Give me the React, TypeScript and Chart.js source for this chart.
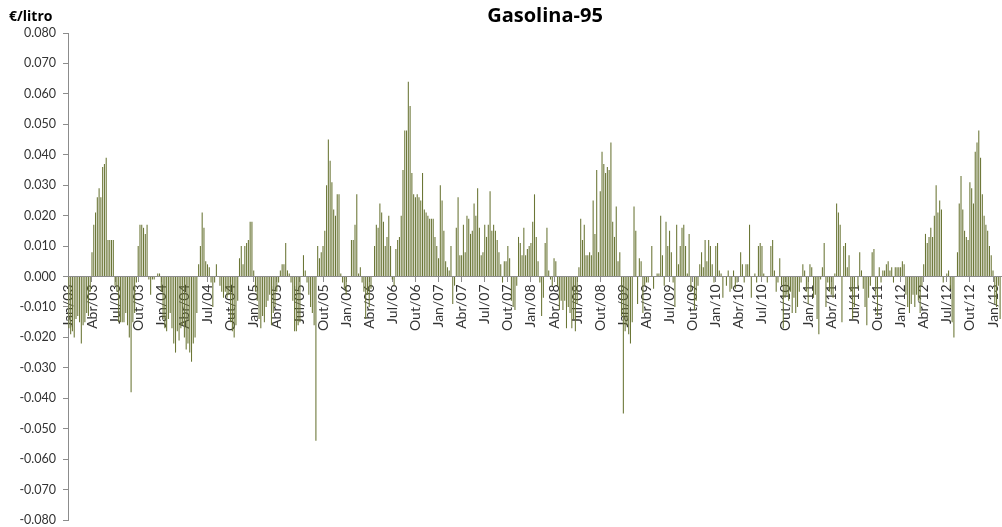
import { useEffect, useRef } from 'react';
import { Chart, registerables } from 'chart.js';

Chart.register(...registerables);

const quarterLabels = [
  'Jan/03', 'Abr/03', 'Jul/03', 'Out/03', 'Jan/04', 'Abr/04', 'Jul/04', 'Out/04',
  'Jan/05', 'Abr/05', 'Jul/05', 'Out/05', 'Jan/06', 'Abr/06', 'Jul/06', 'Out/06',
  'Jan/07', 'Abr/07', 'Jul/07', 'Out/07', 'Jan/08', 'Abr/08', 'Jul/08', 'Out/08',
  'Jan/09', 'Abr/09', 'Jul/09', 'Out/09', 'Jan/10', 'Abr/10', 'Jul/10', 'Out/10',
  'Jan/11', 'Abr/11', 'Jul/11', 'Out/11', 'Jan/12', 'Abr/12', 'Jul/12', 'Out/12',
  'Jan/13',
];

const w2003 = [
  -0.017, -0.019, -0.018, -0.020, -0.014, -0.013, -0.015, -0.022, -0.016, -0.015, -0.012, -0.013, -0.005,
  0.008, 0.017, 0.021, 0.026, 0.029, 0.026, 0.036, 0.037, 0.039, 0.012, 0.012, 0.012, 0.012,
  -0.003, -0.005, -0.015, -0.015, -0.015, -0.015, -0.012, -0.016, -0.020, -0.038, -0.015, -0.012, -0.002,
  0.010, 0.017, 0.017, 0.016, 0.014, 0.017, -0.001, -0.006, -0.001, -0.001, 0.000, 0.001, 0.001,
];
const w2004 = [
  -0.005, -0.014, -0.017, -0.018, -0.014, -0.012, -0.017, -0.022, -0.025, -0.018, -0.021, -0.017, -0.016,
  -0.020, -0.024, -0.022, -0.025, -0.028, -0.022, -0.020, -0.012, 0.004, 0.010, 0.021, 0.016, 0.005,
  0.004, 0.003, -0.002, -0.010, -0.002, 0.004, 0.000, -0.003, -0.005, -0.007, -0.005, -0.007, -0.006,
  -0.015, -0.018, -0.020, -0.016, -0.008, 0.006, 0.010, 0.004, 0.010, 0.011, 0.012, 0.018, 0.018,
];
const w2005 = [
  0.002, -0.005, -0.008, -0.014, -0.017, -0.013, -0.015, -0.010, -0.008, -0.006, -0.016, -0.012, -0.010,
  -0.005, -0.002, 0.002, 0.004, 0.004, 0.011, 0.002, 0.001, -0.002, -0.008, -0.018, -0.018, -0.016,
  -0.015, 0.000, 0.007, 0.002, -0.002, -0.006, -0.010, -0.012, -0.016, -0.054, 0.010, 0.006, 0.008,
  0.010, 0.015, 0.030, 0.045, 0.038, 0.031, 0.022, 0.020, 0.027, 0.027, 0.001, -0.002, -0.004,
];
const w2006 = [
  -0.006, 0.000, 0.000, 0.012, 0.012, 0.017, 0.027, 0.001, 0.003, -0.002, -0.005, -0.014, -0.006,
  -0.010, -0.004, 0.000, 0.010, 0.017, 0.016, 0.024, 0.021, 0.018, 0.010, 0.013, 0.020, 0.010,
  -0.001, -0.003, 0.009, 0.012, 0.013, 0.020, 0.035, 0.048, 0.048, 0.064, 0.056, 0.034, 0.027,
  0.026, 0.027, 0.026, 0.025, 0.034, 0.022, 0.021, 0.020, 0.019, 0.019, 0.019, 0.013, 0.010,
];
const w2007 = [
  0.006, 0.030, 0.025, 0.015, 0.005, 0.003, 0.002, 0.010, -0.009, -0.003, 0.016, 0.026, 0.007,
  0.007, 0.017, 0.008, 0.020, 0.019, 0.014, 0.015, 0.024, 0.020, 0.029, 0.016, 0.007, 0.008,
  0.017, 0.013, 0.017, 0.028, 0.015, 0.017, 0.015, 0.012, 0.008, 0.004, -0.002, 0.005, 0.005,
  0.010, 0.006, -0.008, -0.010, -0.011, -0.003, 0.013, 0.011, 0.007, 0.016, 0.007, 0.009, 0.010,
];
const w2008 = [
  0.011, 0.018, 0.027, 0.013, 0.005, -0.002, -0.013, -0.007, 0.011, 0.016, 0.002, -0.001, -0.003,
  0.006, 0.005, -0.003, -0.011, -0.008, -0.011, -0.008, -0.017, -0.010, -0.012, -0.017, -0.014, -0.018,
  -0.009, 0.003, 0.019, 0.012, 0.017, 0.007, 0.007, 0.008, 0.007, 0.025, 0.014, 0.035, 0.008,
  0.028, 0.041, 0.037, 0.034, 0.036, 0.035, 0.044, 0.018, 0.013, 0.023, 0.005, 0.008, -0.013,
];
const w2009 = [
  -0.045, -0.018, -0.016, -0.019, -0.022, -0.015, 0.023, 0.015, -0.009, 0.006, 0.005, -0.012, -0.003,
  -0.002, -0.002, 0.000, 0.010, -0.004, 0.000, 0.001, 0.001, 0.020, 0.007, -0.003, 0.018, 0.010,
  0.015, 0.008, -0.002, -0.010, 0.017, 0.004, 0.010, 0.016, 0.017, 0.010, 0.001, 0.014, -0.005,
  0.000, -0.011, -0.008, -0.003, 0.004, 0.008, 0.003, 0.012, 0.005, 0.012, 0.010, 0.004, -0.002,
];
const w2010 = [
  0.010, 0.011, 0.002, 0.001, -0.007, 0.000, -0.003, 0.002, -0.005, -0.004, 0.002, -0.004, -0.002,
  0.000, 0.008, 0.004, -0.002, 0.004, 0.004, 0.017, -0.007, 0.000, 0.001, -0.002, 0.010, 0.011,
  0.010, 0.001, 0.000, -0.002, 0.000, 0.010, 0.012, 0.002, -0.005, -0.002, 0.006, -0.003, -0.017,
  -0.007, -0.006, -0.008, -0.005, -0.012, -0.007, -0.012, -0.010, -0.005, -0.002, 0.004, 0.002, -0.005,
];
const w2011 = [
  -0.009, 0.004, 0.003, -0.007, -0.006, -0.014, -0.019, -0.001, 0.003, 0.011, -0.010, -0.002, -0.005,
  -0.006, -0.007, 0.001, 0.024, 0.021, 0.017, -0.015, 0.010, 0.011, 0.003, 0.007, -0.005, -0.014,
  -0.010, 0.000, -0.004, 0.008, 0.002, -0.004, -0.010, -0.016, -0.007, -0.003, 0.008, 0.009, -0.006,
  -0.013, 0.003, -0.002, 0.002, 0.002, 0.004, 0.005, 0.002, 0.003, -0.002, 0.003, 0.003, 0.003,
];
const w2012 = [
  0.003, 0.005, 0.004, -0.006, -0.010, -0.012, -0.009, -0.006, -0.010, -0.006, -0.008, -0.012, -0.003,
  0.004, 0.014, 0.011, 0.013, 0.016, 0.013, 0.020, 0.030, 0.021, 0.025, 0.022, -0.002, 0.000,
  0.001, 0.002, -0.004, -0.015, -0.020, 0.000, 0.008, 0.024, 0.033, 0.022, 0.015, 0.013, 0.012,
  0.031, 0.029, 0.024, 0.041, 0.044, 0.048, 0.039, 0.027, 0.020, 0.017, 0.015, 0.010, 0.007,
];
const w2013 = [0.002, -0.009, -0.010, -0.003, -0.014];

const WEEKS_PER_QUARTER = 13;
const TITLE = 'Gasolina-95';
const UNIT = '€/litro';
const BAR_COLOR = '#6B7636';
const AXIS_COLOR = '#8C8C8C';
const TEXT_COLOR = '#333333';
const FONT_FAMILY = 'Lato, "Open Sans", sans-serif';
const TITLE_FAMILY = '"Open Sans", Lato, sans-serif';

export default function App() {
  const ref = useRef<HTMLCanvasElement>(null);

  useEffect(() => {
    const values = [
      ...w2003, ...w2004, ...w2005, ...w2006, ...w2007,
      ...w2008, ...w2009, ...w2010, ...w2011, ...w2012, ...w2013,
    ];
    const labels = values.map((_, i) =>
      i % WEEKS_PER_QUARTER === 0 && quarterLabels[i / WEEKS_PER_QUARTER]
        ? quarterLabels[i / WEEKS_PER_QUARTER]
        : ''
    );

    const textPlugin = {
      id: 'textPlugin',
      afterDraw(chart: any) {
        const ctx = chart.ctx;
        ctx.save();
        ctx.fillStyle = '#000000';
        ctx.textBaseline = 'alphabetic';
        ctx.textAlign = 'center';
        ctx.font = `bold 20px ${TITLE_FAMILY}`;
        ctx.fillText(TITLE, 545, 22);
        ctx.textAlign = 'left';
        ctx.font = `bold 14px ${TITLE_FAMILY}`;
        ctx.fillText(UNIT, 9, 21);
        ctx.restore();
      },
    };

    const zeroPad = (s: any) => {
      s.paddingTop = 0;
      s.paddingBottom = 0;
      s.paddingLeft = 0;
      s.paddingRight = 0;
    };

    const chart = new Chart(ref.current as HTMLCanvasElement, {
      type: 'bar',
      data: {
        labels,
        datasets: [
          {
            data: values,
            backgroundColor: BAR_COLOR,
            borderWidth: 0,
            barPercentage: 0.6,
            categoryPercentage: 1,
          },
        ],
      },
      options: {
        animation: false,
        responsive: false,
        maintainAspectRatio: false,
        layout: { padding: { top: 33, right: 1, bottom: 7, left: 0 } },
        plugins: {
          legend: { display: false },
          tooltip: { enabled: false },
          title: { display: false },
        },
        scales: {
          x: {
            position: { y: 0 } as any,
            offset: true,
            grid: {
              display: true,
              drawOnChartArea: false,
              drawTicks: true,
              tickLength: 5,
              offset: false,
              color: (c: any) => (c.tick && c.tick.label ? AXIS_COLOR : 'rgba(0,0,0,0)'),
            },
            border: { display: true, color: AXIS_COLOR, width: 1 },
            ticks: {
              autoSkip: false,
              maxRotation: 90,
              minRotation: 90,
              padding: 3,
              color: TEXT_COLOR,
              font: { family: FONT_FAMILY, size: 14 },
            },
            afterFit: zeroPad,
          },
          y: {
            min: -0.08,
            max: 0.08,
            grid: {
              drawOnChartArea: false,
              drawTicks: true,
              tickLength: 5,
              color: AXIS_COLOR,
            },
            border: { display: true, color: AXIS_COLOR, width: 1 },
            ticks: {
              stepSize: 0.01,
              padding: 7,
              color: TEXT_COLOR,
              font: { family: FONT_FAMILY, size: 12.5 },
              callback: (v: any) => (Math.abs(Number(v)) < 1e-9 ? '0.000' : Number(v).toFixed(3)),
            },
            afterFit: (s: any) => {
              s.width = 68;
              zeroPad(s);
            },
          },
        },
      },
      plugins: [textPlugin],
    });
    return () => chart.destroy();
  }, []);

  return (
    <div style={{ position: 'fixed', left: 0, top: 0, width: 1002, height: 527, background: '#ffffff' }}>
      <canvas ref={ref} width={1002} height={527} style={{ width: 1002, height: 527, display: 'block' }} />
    </div>
  );
}
